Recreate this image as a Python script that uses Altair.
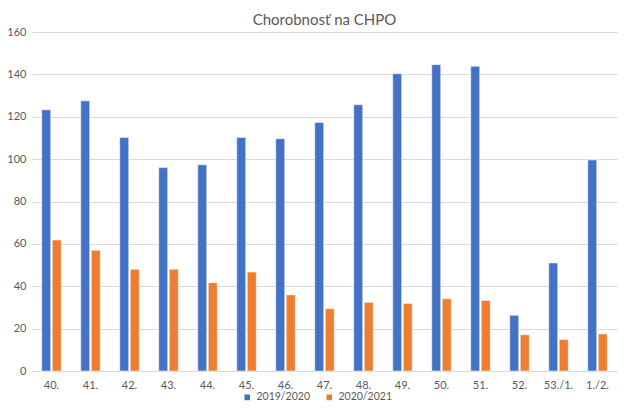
import altair as alt
import pandas as pd

weeks = ["40.", "41.", "42.", "43.", "44.", "45.", "46.", "47.", "48.", "49.", "50.", "51.", "52.", "53./1.", "1./2."]
s2019 = [123.3, 127.5, 110.2, 96.0, 97.3, 110.2, 109.6, 117.3, 125.7, 140.3, 144.6, 143.8, 26.3, 51.0, 99.6]
s2020 = [61.8, 57.0, 48.0, 48.0, 41.7, 46.7, 35.9, 29.4, 32.4, 31.9, 34.1, 33.3, 17.1, 14.9, 17.5]
series = ["2019/2020", "2020/2021"]
colors = ["#4472C4", "#ED7D31"]

rows = []
for w, a, b in zip(weeks, s2019, s2020):
    rows.append({"week": w, "series": series[0], "value": a})
    rows.append({"week": w, "series": series[1], "value": b})
df = pd.DataFrame(rows)

font = "Lato"
chart = alt.Chart(df).mark_bar(stroke="white", strokeWidth=0.5).encode(
    x=alt.X("week:N", sort=weeks, title=None,
            scale=alt.Scale(paddingInner=0.5, paddingOuter=0.25),
            axis=alt.Axis(labelAngle=0, ticks=False, domainColor="#d9d9d9",
                          labelPadding=8, labelFontSize=11, labelColor="#595959", labelFont=font)),
    xOffset=alt.XOffset("series:N", sort=series, scale=alt.Scale(paddingInner=0.15)),
    y=alt.Y("value:Q", title=None,
            scale=alt.Scale(domain=[0, 160]),
            axis=alt.Axis(values=list(range(0, 161, 20)), ticks=False, domain=False,
                          gridColor="#d9d9d9", labelPadding=6, labelFontSize=11,
                          labelColor="#595959", labelFont=font)),
    color=alt.Color("series:N", sort=series,
                    scale=alt.Scale(domain=series, range=colors),
                    legend=alt.Legend(title=None, orient="none", direction="horizontal",
                                      legendX=210, legendY=360,
                                      symbolType="square",
                                      symbolSize=50, labelFontSize=10.5, labelColor="#595959",
                                      labelFont=font, columnPadding=12)),
).properties(
    width=585, height=339,
    title=alt.Title("Chorobnosť na CHPO", fontSize=15, font=font, fontWeight="normal",
                    color="#595959", offset=-2),
    autosize=alt.AutoSizeParams(type="none"),
    padding={"left": 24, "right": 2, "top": 24, "bottom": 34},
).configure_view(stroke=None)

chart.save("out.html", embed_options={"renderer": "svg", "actions": False})
